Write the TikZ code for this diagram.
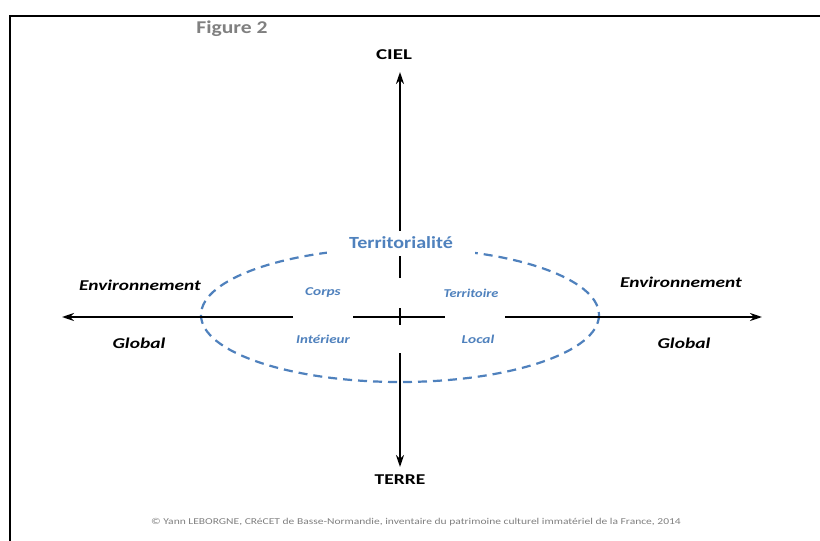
\documentclass[tikz,border=0pt]{standalone}
\usepackage{fontspec}
\setmainfont{Carlito}
\usetikzlibrary{arrows.meta}
\definecolor{offblue}{RGB}{79,129,189}
\definecolor{figgray}{RGB}{128,128,128}
\newcommand{\wide}[2]{\scalebox{#1}[1]{#2}}
\tikzset{
  axis/.style={line width=2.8pt,-{Stealth[length=12pt,width=8pt]}},
  axisseg/.style={line width=2.8pt},
  pole/.style={font=\bfseries\fontsize{15}{17}\selectfont,text=black,inner sep=0pt},
  side/.style={font=\bfseries\itshape\fontsize{15}{17}\selectfont,text=black,inner sep=0pt},
  inner/.style={font=\bfseries\itshape\fontsize{12}{14}\selectfont,text=offblue,inner sep=0pt},
}
\begin{document}
\begin{tikzpicture}[x=1pt,y=-1pt]
\useasboundingbox (0,0) rectangle (820,541);
\fill[white] (0,0) rectangle (820,541);
% partial frame
\draw[line width=2pt] (10,541) -- (10,15.5) -- (820,15.5);
\node[font=\bfseries\fontsize{18}{20}\selectfont,text=figgray,inner sep=0pt] (fig) at (232,29) {\wide{1.2}{Figure 2}};
% coordinates
\coordinate (ciel) at (400,72);
\coordinate (terre) at (400,467);
\coordinate (west) at (62,317);
\coordinate (east) at (762,317);
\coordinate (vt) at (400,278);
\coordinate (vb) at (400,353);
\coordinate (hl) at (293,317);
\coordinate (hr) at (505,317);
\coordinate (ct) at (400,308);
\coordinate (cb) at (400,325);
\coordinate (cl) at (353,317);
\coordinate (cr) at (445,317);
% ellipse
\draw[offblue,line width=2.2pt,dash pattern=on 9pt off 6pt] (400,315) ellipse [x radius=199, y radius=67];
% axes
\draw[axis] (vt) -- (ciel);
\draw[axis] (vb) -- (terre);
\draw[axis] (hl) -- (west);
\draw[axis] (hr) -- (east);
\draw[axisseg] (ct) -- (cb);
\draw[axisseg] (cl) -- (cr);
% labels
\node[pole] (lciel) at (394,55) {\wide{1.4}{CIEL}};
\node[pole] (lterre) at (400,480) {\wide{1.3}{TERRE}};
\node[font=\bfseries\fontsize{17}{19}\selectfont,text=offblue,fill=white,minimum width=148pt,minimum height=25pt,inner sep=0pt] (terr) at (401,243) {\wide{1.18}{Territorialité}};
\node[side] (envl) at (140,285) {\wide{1.29}{Environnement}};
\node[side] (envr) at (681,282) {\wide{1.29}{Environnement}};
\node[side] (globl) at (139,343) {\wide{1.3}{Global}};
\node[side] (globr) at (684,343) {\wide{1.3}{Global}};
\node[inner] (corps) at (323,293) {\wide{1.28}{Corps}};
\node[inner] (territoire) at (471,293) {\wide{1.2}{Territoire}};
\node[inner] (interieur) at (323,339) {\wide{1.25}{Intérieur}};
\node[inner] (local) at (478,339) {\wide{1.28}{Local}};
\node[font=\fontsize{9}{11}\selectfont,text=figgray,inner sep=0pt] (foot) at (416,522) {\wide{1.28}{© Yann LEBORGNE, CRéCET de Basse-Normandie, inventaire du patrimoine culturel immatériel de la France, 2014}};
\end{tikzpicture}
\end{document}
